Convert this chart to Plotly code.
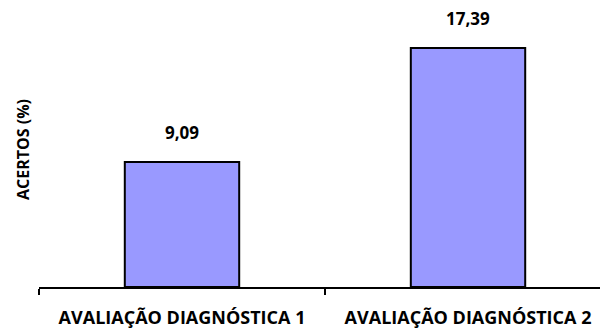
import plotly.graph_objects as go

categories = ["AVALIAÇÃO DIAGNÓSTICA 1", "AVALIAÇÃO DIAGNÓSTICA 2"]
values = [9.09, 17.39]
value_labels = [f"{v:.2f}".replace(".", ",") for v in values]
y_title = "ACERTOS (%)"

FONT = "Open Sans"

fig = go.Figure(
    go.Bar(
        x=categories,
        y=values,
        marker=dict(color="#9999FF", line=dict(color="black", width=2)),
        width=0.4,
    )
)

for c, v, t in zip(categories, values, value_labels):
    fig.add_annotation(
        x=c, y=v, text=f"<b>{t}</b>", showarrow=False,
        yanchor="bottom", yshift=16,
        font=dict(family=FONT, size=17, color="black"),
    )

fig.update_layout(
    width=600, height=329,
    margin=dict(l=39, r=0, t=12, b=40),
    plot_bgcolor="white", paper_bgcolor="white",
    showlegend=False,
    xaxis=dict(
        type="category",
        range=[-0.5, 1.4615],
        showline=True, linecolor="black", linewidth=2,
        ticks="outside", tickson="boundaries", ticklen=6, tickwidth=2,
        tickcolor="black",
        tickfont=dict(family=FONT, size=18, color="black", weight="bold"),
        ticklabelstandoff=13,
        showgrid=False, zeroline=False,
    ),
    yaxis=dict(
        range=[0, 20],
        showticklabels=False, showgrid=False, zeroline=False, showline=False,
        ticks="",
        title=dict(text=f"<b>{y_title}</b>", standoff=4,
                   font=dict(family=FONT, size=16, color="black")),
    ),
)

fig.write_html("out.html")
